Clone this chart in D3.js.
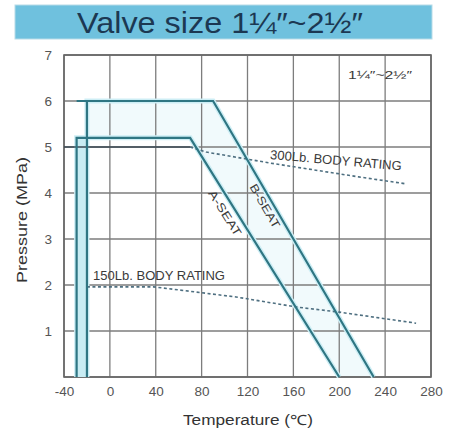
<!DOCTYPE html>
<html><head><meta charset="utf-8">
<script src="https://cdn.jsdelivr.net/npm/d3@7"></script>
<style>body{margin:0;background:#fff}svg{display:block}</style>
</head><body>
<script>
const xTicks = [-40, 0, 40, 80, 120, 160, 200, 240, 280];
const xTickLabels = ["-40", "0", "40", "80", "120", "160", "200", "240", "280"];
const yTicks = [1, 2, 3, 4, 5, 6, 7];
const bSeatT = [-20, -20, 90, 230];
const bSeatP = [0, 6, 6, 0];
const bTopT = [-29, 90];
const bTopP = [6, 6];
const aSeatT = [-29, -29, 70, 200];
const aSeatP = [0, 5.2, 5.2, 0];
const r300T = [-40, 70];
const r300P = [5.0, 5.0];
const r300dT = [70, 84, 140, 217, 258];
const r300dP = [5.0, 4.89, 4.65, 4.35, 4.2];
const r150T = [-20, 38, 110, 163, 200, 267];
const r150P = [1.96, 1.96, 1.74, 1.52, 1.41, 1.17];

const W = 449, H = 435;
const svg = d3.select("body").append("svg").attr("width", W).attr("height", H);
const x = d3.scaleLinear().domain([-40, 280]).range([64, 431]);
const y = d3.scaleLinear().domain([0, 7]).range([377, 55]);
const font = "Liberation Sans, Arial, sans-serif";

// title banner
svg.append("rect").attr("x", 15).attr("y", 5).attr("width", 417).attr("height", 34)
  .attr("fill", "#6fc1de").attr("stroke", "#b7dbe8").attr("stroke-width", 1);
svg.append("text").attr("x", 77).attr("y", 33)
  .attr("font-family", font).attr("font-size", 29)
  .attr("textLength", 286).attr("lengthAdjust", "spacingAndGlyphs")
  .attr("fill", "#1c3852").text("Valve size 1¼″~2½″");

// fill between seats
const toPts = (T, P) => T.map((t, i) => [x(t), y(P[i])]);
const aPts = toPts(aSeatT, aSeatP), bPts = toPts(bSeatT, bSeatP);
svg.append("path").attr("d", d3.line()(bPts.concat(aPts.slice().reverse())) + "Z")
  .attr("fill", "#f1fafc");

// grid
const g = svg.append("g");
xTicks.forEach(t => g.append("line").attr("x1", x(t)).attr("x2", x(t)).attr("y1", y(0)).attr("y2", y(7))
  .attr("stroke", "#7d7d7d").attr("stroke-width", 1.3));
[0].concat(yTicks).forEach(p => g.append("line").attr("x1", x(-40)).attr("x2", x(280)).attr("y1", y(p)).attr("y2", y(p))
  .attr("stroke", "#7d7d7d").attr("stroke-width", 1.3));
svg.append("rect").attr("x", x(-40)).attr("y", y(7)).attr("width", x(280) - x(-40)).attr("height", y(0) - y(7))
  .attr("fill", "none").attr("stroke", "#666").attr("stroke-width", 1.6);

const line = d3.line().x(d => x(d[0])).y(d => y(d[1]));
const pts = (T, P) => T.map((t, i) => [t, P[i]]);

// halos
[pts(aSeatT, aSeatP), pts(bSeatT, bSeatP)].forEach(d =>
  svg.append("path").attr("d", line(d)).attr("fill", "none").attr("stroke", "#cdeef5").attr("stroke-width", 5));
svg.append("rect").attr("x", x(-29)).attr("y", y(5.2)).attr("width", x(-20) - x(-29)).attr("height", y(0) - y(5.2))
  .attr("fill", "#c8ecf3");

// rating lines
svg.append("path").attr("d", line(pts(r300T, r300P))).attr("fill", "none").attr("stroke", "#3b4a55").attr("stroke-width", 1.6);
svg.append("path").attr("d", line(pts(r300dT, r300dP))).attr("fill", "none").attr("stroke", "#4e6f80")
  .attr("stroke-width", 1.6).attr("stroke-dasharray", "3,2.5");
svg.append("path").attr("d", line(pts(r150T, r150P))).attr("fill", "none").attr("stroke", "#4e6f80")
  .attr("stroke-width", 1.6).attr("stroke-dasharray", "3,2.5");

// seat lines
[pts(aSeatT, aSeatP), pts(bSeatT, bSeatP), pts(bTopT, bTopP)].forEach(d =>
  svg.append("path").attr("d", line(d)).attr("fill", "none").attr("stroke", "#2f7683").attr("stroke-width", 2.2)
    .attr("stroke-linejoin", "miter"));

// axes
const xAxis = d3.axisBottom(x).tickValues(xTicks).tickFormat((d, i) => xTickLabels[i]).tickSize(0).tickPadding(9);
const gx = svg.append("g").attr("transform", `translate(0,${y(0)})`).call(xAxis);
gx.select(".domain").remove();
gx.selectAll("text").attr("font-family", font).attr("font-size", 13.5).attr("fill", "#555");
const yAxis = d3.axisLeft(y).tickValues(yTicks).tickFormat(d3.format("d")).tickSize(0).tickPadding(12);
const gy = svg.append("g").attr("transform", `translate(${x(-40)},0)`).call(yAxis);
gy.select(".domain").remove();
gy.selectAll("text").attr("font-family", font).attr("font-size", 13.5).attr("fill", "#555");

svg.append("text").attr("x", 183).attr("y", 425).attr("font-family", font)
  .attr("font-size", 14).attr("textLength", 130).attr("lengthAdjust", "spacingAndGlyphs")
  .attr("fill", "#333").text("Temperature (℃)");
svg.append("text").attr("transform", "translate(27,283) rotate(-90)")
  .attr("font-family", font).attr("font-size", 14).attr("textLength", 126).attr("lengthAdjust", "spacingAndGlyphs")
  .attr("fill", "#333").text("Pressure (MPa)");

// annotations
const lab = (txt, cx, cy, rot, size, len) => svg.append("text")
  .attr("transform", `translate(${cx},${cy}) rotate(${rot})`)
  .attr("x", -len / 2).attr("y", size * 0.36)
  .attr("font-family", font).attr("font-size", size).attr("fill", "#3a3a3a")
  .attr("textLength", len).attr("lengthAdjust", "spacingAndGlyphs").text(txt);
lab("1¼″~2½″", 380, 75, 0, 11, 64);
lab("300Lb. BODY RATING", 336, 160, 5, 13, 132);
lab("150Lb. BODY RATING", 159, 275, 0, 13, 132);
lab("A-SEAT", 225, 213, 58, 11.5, 52);
lab("B-SEAT", 265, 206, 60, 11.5, 49);
</script>
</body></html>
